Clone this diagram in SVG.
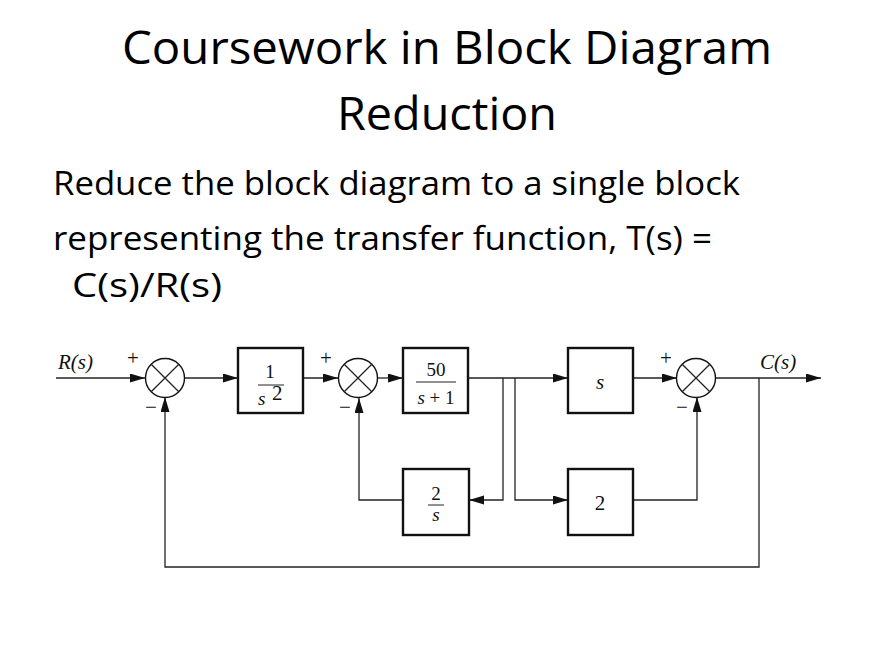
<svg xmlns="http://www.w3.org/2000/svg" width="895" height="652" viewBox="0 0 895 652">
<defs>
<style>
.title{font-family:"Open Sans","Noto Sans",sans-serif;font-size:45px;fill:#000;text-anchor:middle}
.body{font-family:"Open Sans","Noto Sans",sans-serif;font-size:33px;fill:#000}
.m{font-family:"Liberation Serif","Times New Roman",serif;font-size:21px;fill:#111}
.f{font-size:19px}
.i{font-style:italic}
.mid{text-anchor:middle}
.pm{font-size:21px}
.blk{fill:#fff;stroke:#111;stroke-width:2.4}
.sum{fill:#fff;stroke:#111;stroke-width:1.4}
.ln{fill:none;stroke:#222;stroke-width:1.3}
.fr{stroke:#222;stroke-width:1}
</style>
<marker id="ah" markerUnits="userSpaceOnUse" markerWidth="16" markerHeight="10" refX="15" refY="4.5" orient="auto">
<path d="M0,0 L15,4.5 L0,9 z" fill="#111"/>
</marker>
</defs>
<rect width="895" height="652" fill="#fff"/>
<g id="title">
<text class="title" x="447" y="64" textLength="650" lengthAdjust="spacingAndGlyphs">Coursework in Block Diagram</text>
<text class="title" x="447" y="130" textLength="220" lengthAdjust="spacingAndGlyphs">Reduction</text>
</g>
<g id="description">
<text class="body" x="53" y="195" textLength="687" lengthAdjust="spacingAndGlyphs">Reduce the block diagram to a single block</text>
<text class="body" x="53" y="250" textLength="659" lengthAdjust="spacingAndGlyphs">representing the transfer function, T(s) =</text>
<text class="body" x="72" y="297" textLength="150" lengthAdjust="spacingAndGlyphs">C(s)/R(s)</text>
</g>
<g id="connectors">
<line class="ln" x1="56" y1="378" x2="145" y2="378" marker-end="url(#ah)"/>
<line class="ln" x1="185" y1="378" x2="238" y2="378" marker-end="url(#ah)"/>
<line class="ln" x1="303" y1="378" x2="338" y2="378" marker-end="url(#ah)"/>
<line class="ln" x1="378" y1="378" x2="403" y2="378" marker-end="url(#ah)"/>
<line class="ln" x1="468" y1="378" x2="568" y2="378" marker-end="url(#ah)"/>
<polyline class="ln" points="503,378 503,500 469,500" marker-end="url(#ah)"/>
<polyline class="ln" points="403,500 359,500 359,398" marker-end="url(#ah)"/>
<polyline class="ln" points="515,378 515,500 568,500" marker-end="url(#ah)"/>
<line class="ln" x1="633" y1="378" x2="677" y2="378" marker-end="url(#ah)"/>
<polyline class="ln" points="633,500 697,500 697,397" marker-end="url(#ah)"/>
<line class="ln" x1="715" y1="378" x2="821" y2="378" marker-end="url(#ah)"/>
<polyline class="ln" points="759,378 759,567 165,567 165,397" marker-end="url(#ah)"/>
</g>
<g id="labels">
<text class="m i" x="58" y="369" font-size="20">R(s)</text>
<text class="m i" x="760" y="369" font-size="20">C(s)</text>
<text class="m pm mid" x="133" y="365">+</text>
<text class="m pm mid" x="151" y="414">−</text>
<text class="m pm mid" x="326" y="365">+</text>
<text class="m pm mid" x="345" y="414">−</text>
<text class="m pm mid" x="666" y="365">+</text>
<text class="m pm mid" x="682" y="414">−</text>
</g>
<g id="sum1">
<circle class="sum" cx="165" cy="378" r="19.5"/>
<path class="ln" d="M151.2,364.2 L178.8,391.8 M178.8,364.2 L151.2,391.8"/>
</g>
<g id="sum2">
<circle class="sum" cx="358" cy="378" r="19.5"/>
<path class="ln" d="M344.2,364.2 L371.8,391.8 M371.8,364.2 L344.2,391.8"/>
</g>
<g id="sum3">
<circle class="sum" cx="696" cy="378" r="19.5"/>
<path class="ln" d="M682.2,364.2 L709.8,391.8 M709.8,364.2 L682.2,391.8"/>
</g>
<g id="block-1-over-s2">
<rect class="blk" x="238" y="348" width="65" height="65"/>
<text class="m f mid" x="270" y="378">1</text>
<line class="fr" x1="258" y1="385" x2="284" y2="385"/>
<text class="m f i" x="258" y="405">s</text>
<text class="m" x="272" y="400" font-size="14">2</text>
</g>
<g id="block-50-over-s-plus-1">
<rect class="blk" x="403" y="348" width="65" height="65"/>
<text class="m f mid" x="436" y="376">50</text>
<line class="fr" x1="416" y1="382" x2="456" y2="382"/>
<text class="m f mid" x="436" y="404"><tspan class="i">s</tspan> + 1</text>
</g>
<g id="block-2-over-s">
<rect class="blk" x="403" y="469" width="66" height="66"/>
<text class="m f mid" x="436" y="500">2</text>
<line class="fr" x1="428" y1="505" x2="444" y2="505"/>
<text class="m f i mid" x="436" y="521">s</text>
</g>
<g id="block-s">
<rect class="blk" x="568" y="348" width="65" height="65"/>
<text class="m i mid" x="600" y="389">s</text>
</g>
<g id="block-2">
<rect class="blk" x="568" y="469" width="65" height="66"/>
<text class="m mid" x="600" y="510">2</text>
</g>
</svg>
